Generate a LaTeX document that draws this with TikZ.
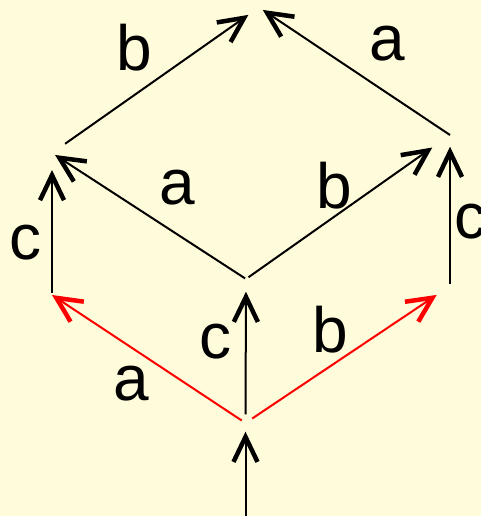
\documentclass[tikz,border=0pt]{standalone}
\usepackage{fontspec}
\setmainfont{Liberation Sans}
\usetikzlibrary{arrows.meta}
\definecolor{PaperYellow}{HTML}{FFFCDC}
\definecolor{PathRed}{HTML}{FF0000}

\begin{document}
\begin{tikzpicture}[
    x=1pt,y=-1pt,
    arrow/.style={-{Straight Barb[length=25pt,width=24pt,line width=4.5pt 0]},line width=2pt},
    gap/.style 2 args={shorten <=#1pt,shorten >=#2pt},
    lbl/.style={inner sep=0pt,font=\fontsize{64}{64}\selectfont}
  ]
    \fill[PaperYellow] (0,0) rectangle (481,516);
    \useasboundingbox (0,0) rectangle (481,516);
    % lattice points
    \coordinate (in) at (245.5,520);
    \coordinate (v0) at (245.5,423);
    \coordinate (vC) at (246,279);
    \coordinate (vL1) at (52,295);
    \coordinate (vR1) at (450,286);
    \coordinate (vL2) at (52,153);
    \coordinate (vR2) at (450,135);
    \coordinate (vT) at (259,7.4);
    % edges
    \draw[arrow,gap={0}{8.7}] (in) -- (v0);
    \draw[arrow,PathRed,gap={4.5}{0}] (v0) -- (vL1);
    \draw[arrow,PathRed,gap={8}{16}] (v0) -- (vR1);
    \draw[arrow,gap={8.7}{12.7}] (v0) -- (vC);
    \draw[arrow,gap={2}{17}] (vL1) -- (vL2);
    \draw[arrow,gap={2}{11.7}] (vR1) -- (vR2);
    \draw[arrow,gap={1}{3.6}] (vC) -- (vL2);
    \draw[arrow,gap={3}{21.7}] (vC) -- (vR2);
    \draw[arrow,gap={16}{13}] (vL2) -- (vT);
    \draw[arrow,gap={0}{4.5}] (vR2) -- (vT);
    % labels
    \node[lbl] (lb1) at (134.7,47.8) {b};
    \node[lbl] (la1) at (387.7,43.8) {a};
    \node[lbl] (la2) at (177,188) {a};
    \node[lbl] (lb2) at (334,185.8) {b};
    \node[lbl] (lc1) at (25.8,242.5) {c};
    \node[lbl] (lc2) at (470.7,221.7) {c};
    \node[lbl] (lc3) at (215,341.2) {c};
    \node[lbl] (lb3) at (330.5,330) {b};
    \node[lbl] (la3) at (131.2,383.8) {a};
  \end{tikzpicture}
\end{document}
